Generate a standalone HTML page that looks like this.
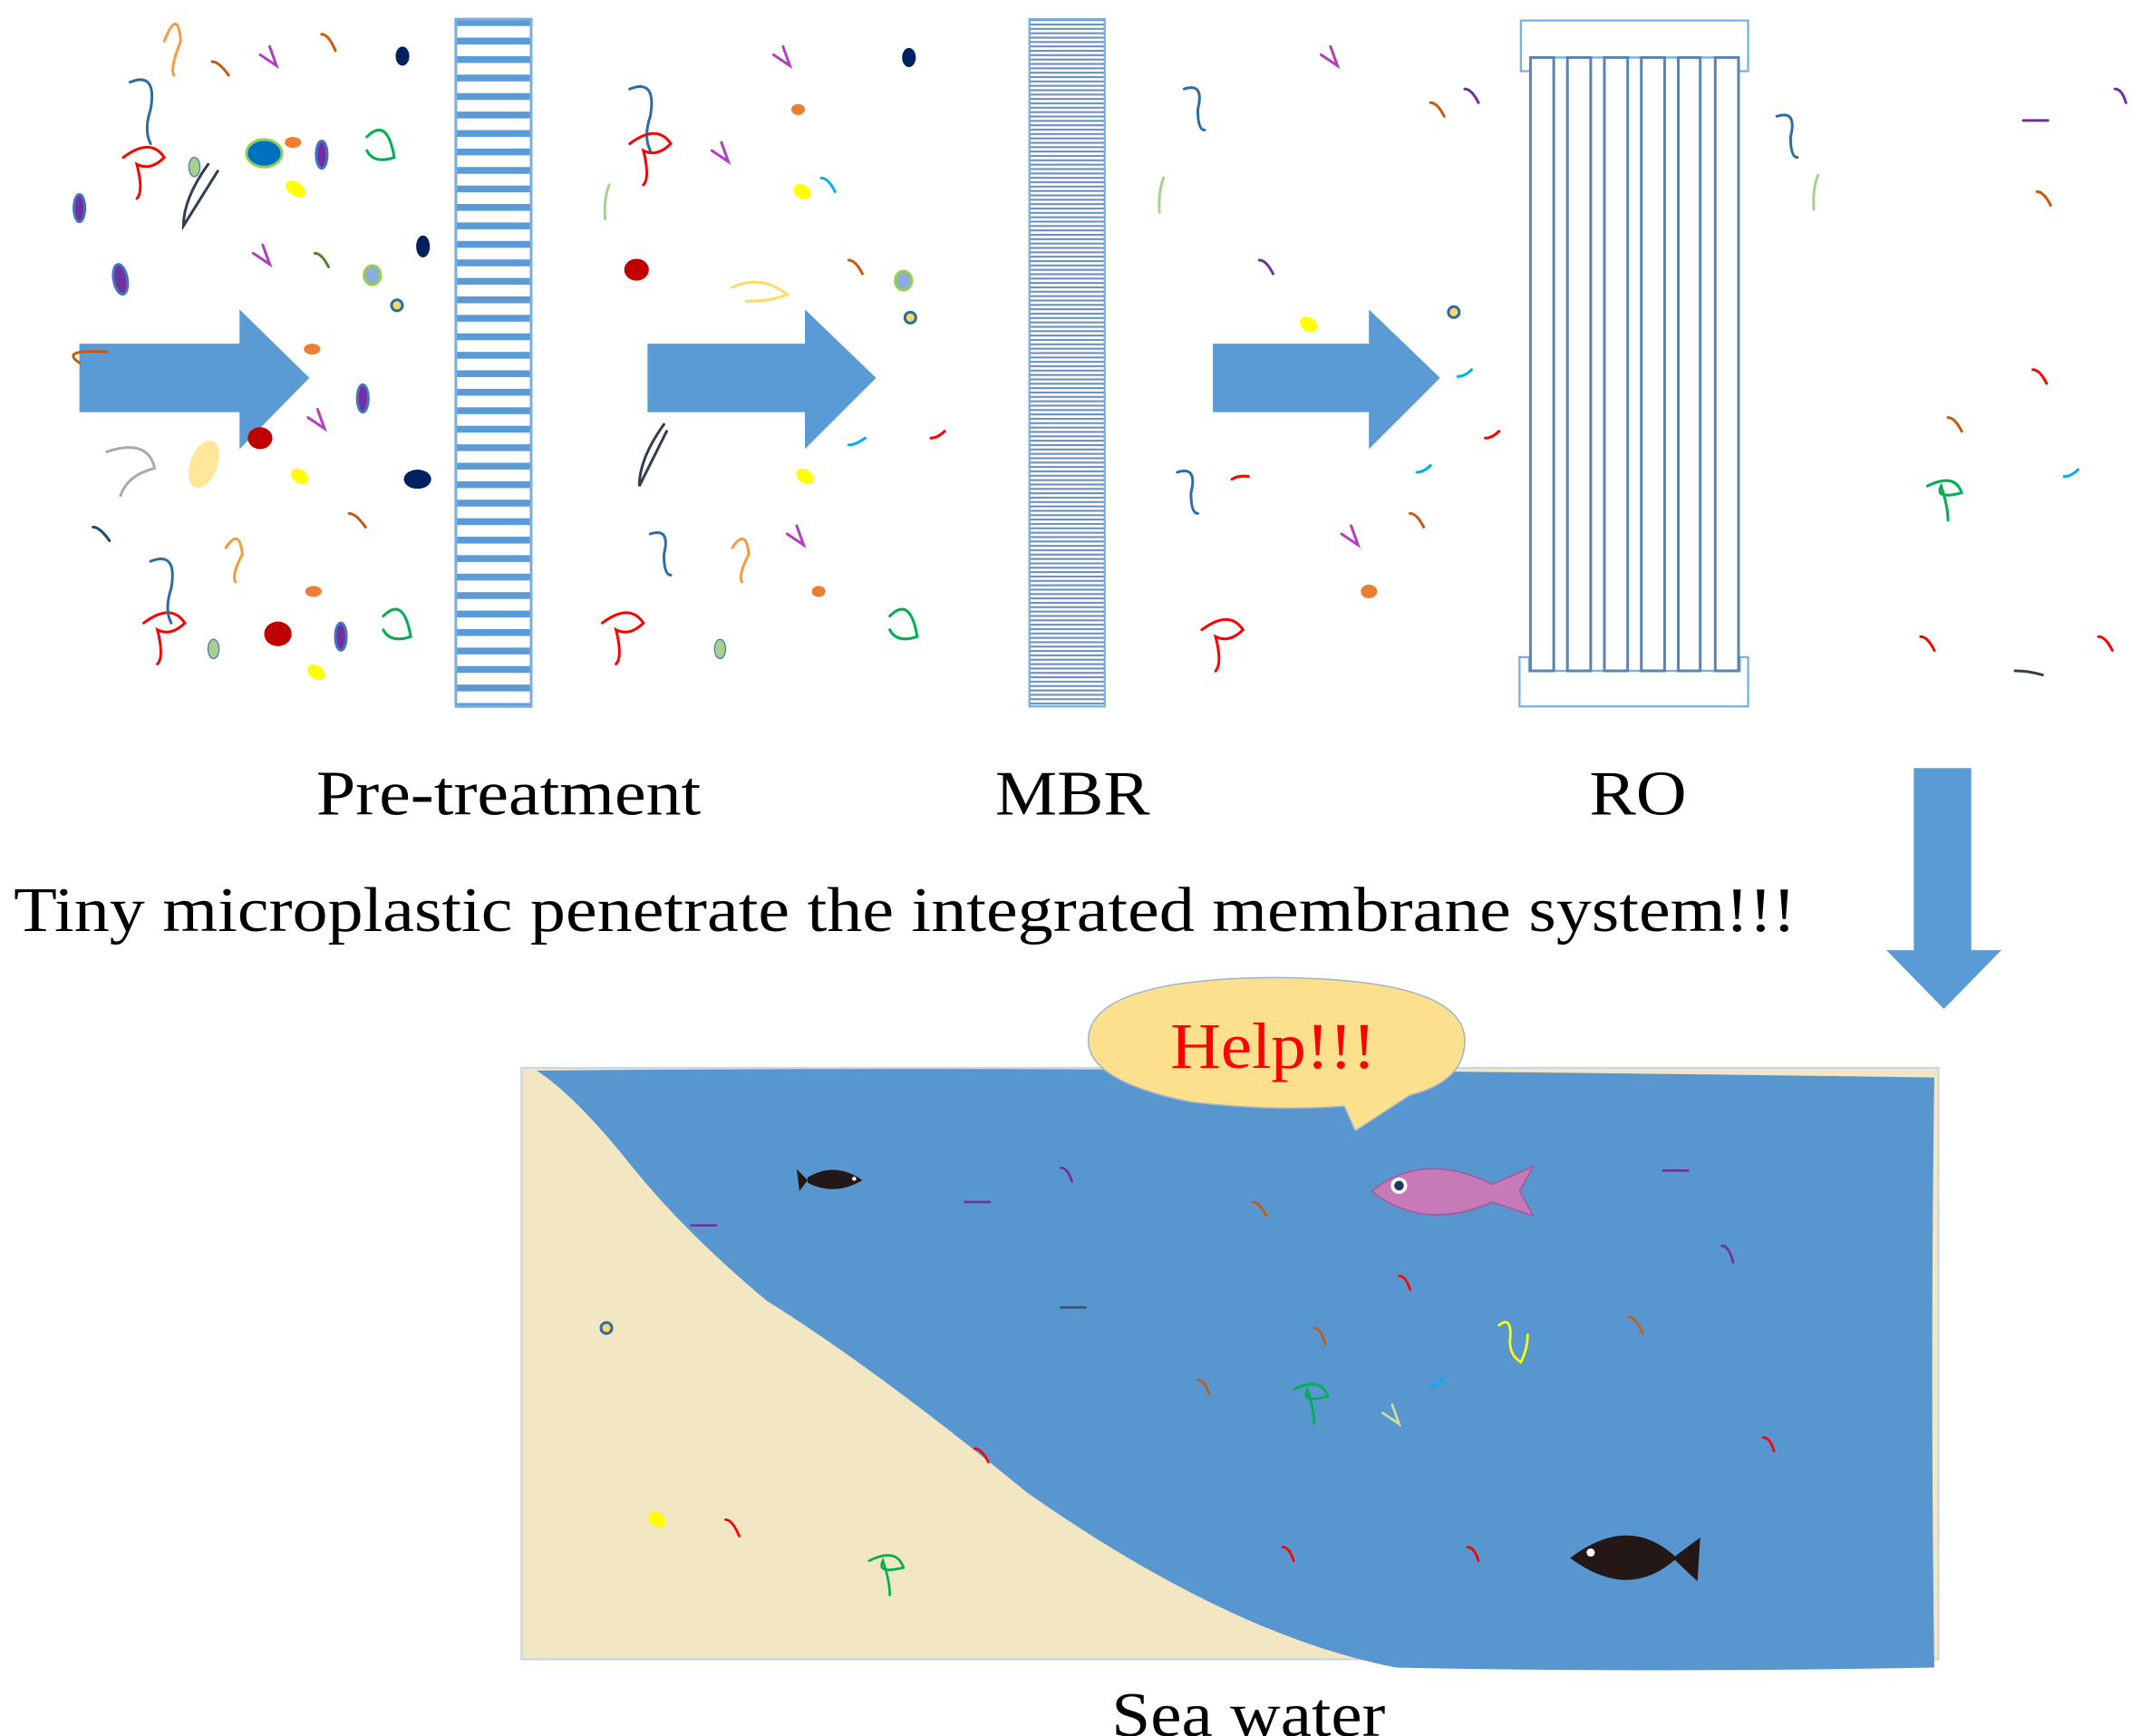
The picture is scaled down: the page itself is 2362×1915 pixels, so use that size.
<!DOCTYPE html>
<html><head><meta charset="utf-8"><style>
html,body{margin:0;padding:0;background:#fff;}
svg{display:block;}
text{font-family:"Liberation Serif",serif;}
</style></head><body>
<svg width="2362" height="1915" viewBox="0 0 1564 1268" preserveAspectRatio="none" xmlns="http://www.w3.org/2000/svg">
<defs>
<pattern id="stripes" x="0" y="14" width="10" height="13.5" patternUnits="userSpaceOnUse">
<rect width="10" height="13.5" fill="#fff"/><rect width="10" height="5" fill="#5b9bd5"/>
</pattern>
<pattern id="dense" x="0" y="14" width="10" height="3.2" patternUnits="userSpaceOnUse">
<rect width="10" height="3.2" fill="#fff"/><rect width="10" height="1.4" fill="#6a8fbf"/>
</pattern>
</defs>
<rect x="333" y="14" width="55" height="502" fill="url(#stripes)" stroke="#7aaee0" stroke-width="2"/>
<rect x="752" y="14" width="55" height="502" fill="url(#dense)" stroke="#7aaee0" stroke-width="1.5"/>
<g fill="#fff" stroke="#7aaee0" stroke-width="1.5">
<path d="M1111 52 V15 H1277 V52 H1270 V42 H1118 V52 Z"/>
<path d="M1110 480 H1117 V490 H1271 V480 H1277 V516 H1110 Z"/>
</g>
<g fill="#fff" stroke="#5b84b1" stroke-width="2">
<rect x="1118" y="42" width="17" height="448"/>
<rect x="1145" y="42" width="17" height="448"/>
<rect x="1172" y="42" width="17" height="448"/>
<rect x="1199" y="42" width="17" height="448"/>
<rect x="1226" y="42" width="16" height="448"/>
<rect x="1253" y="42" width="17" height="448"/>
</g>
<g fill="#5b9bd5">
<path d="M58 251 H175 V226 L226 276 L175 328 V301 H58 Z"/>
<path d="M473 251 H588 V226 L640 276 L588 328 V301 H473 Z"/>
<path d="M886 251 H1000 V226 L1052 276 L1000 328 V301 H886 Z"/>
<path d="M1398 561 H1440 V694 H1462 L1420 737 L1378 694 H1398 Z"/>
</g>
<g fill="none" stroke-width="2" stroke-linecap="round">
<path d="M120 30 q10 -25 12 0 q-8 20 -5 25" stroke="#f79a3e"/>
<path d="M95 60 q20 -8 15 20 q-5 15 0 25" stroke="#2e6da4"/>
<path d="M90 115 q20 -15 30 0 q-10 10 -20 5 q5 20 0 25" stroke="#f00"/>
<path d="M155 45 q5 0 12 10" stroke="#c55a11"/>
<path d="M190 40 l12 8 l-5 -14" stroke="#b23fbf"/>
<path d="M235 25 q5 0 10 12" stroke="#c55a11"/>
<path d="M58 265 q-15 -10 20 -8" stroke="#c55a11"/>
<path d="M152 120 q-18 25 -18 45 l25 -40" stroke="#333f50"/>
<path d="M185 185 l12 8 l-5 -14" stroke="#b23fbf"/>
<path d="M230 185 q5 0 10 10" stroke="#548235"/>
<path d="M268 100 q15 -15 20 15 q-15 5 -20 -5" stroke="#00b050"/>
<path d="M280 450 q15 -15 20 15 q-15 5 -20 -5" stroke="#00b050"/>
<path d="M105 455 q20 -15 30 0 q-10 10 -20 5 q5 20 0 25" stroke="#f00"/>
<path d="M110 410 q20 -8 15 20 q-5 15 0 25" stroke="#2e6da4"/>
<path d="M165 400 q10 -15 12 5 q-8 15 -5 20" stroke="#f79a3e"/>
<path d="M78 330 q30 -10 35 12 q-20 5 -25 20" stroke="#aaa"/>
<path d="M225 305 l12 8 l-5 -14" stroke="#b23fbf"/>
<path d="M255 375 q5 0 12 10" stroke="#c55a11"/>
<path d="M68 385 q5 0 12 10" stroke="#1f4e79"/>
<path d="M460 65 q20 -8 15 20 q-5 15 0 25" stroke="#2e6da4"/>
<path d="M460 105 q20 -15 30 0 q-10 10 -20 5 q5 20 0 25" stroke="#f00"/>
<path d="M565 40 l12 8 l-5 -14" stroke="#b23fbf"/>
<path d="M520 110 l12 8 l-5 -14" stroke="#b23fbf"/>
<path d="M575 390 l12 8 l-5 -14" stroke="#b23fbf"/>
<path d="M485 310 q-18 25 -18 45 l20 -40" stroke="#333f50"/>
<path d="M475 390 q15 -5 10 15 q0 15 5 15" stroke="#2e6da4"/>
<path d="M535 400 q10 -15 12 5 q-8 15 -5 20" stroke="#f79a3e"/>
<path d="M440 455 q20 -15 30 0 q-10 10 -20 5 q5 20 0 25" stroke="#f00"/>
<path d="M650 450 q15 -15 20 15 q-15 5 -20 -5" stroke="#00b050"/>
<path d="M535 210 q20 -10 40 5 q-10 5 -30 5" stroke="#ffd966"/>
<path d="M620 190 q5 0 10 10" stroke="#c55a11"/>
<path d="M600 130 q5 0 10 10" stroke="#00b0f0"/>
<path d="M620 325 q5 0 12 -5" stroke="#00b0f0"/>
<path d="M680 320 q5 0 10 -5" stroke="#f00"/>
<path d="M865 65 q15 -5 10 15 q0 15 5 15" stroke="#2e6da4"/>
<path d="M860 345 q15 -5 10 15 q0 15 5 15" stroke="#2e6da4"/>
<path d="M965 40 l12 8 l-5 -14" stroke="#b23fbf"/>
<path d="M980 390 l12 8 l-5 -14" stroke="#b23fbf"/>
<path d="M1045 75 q5 0 10 10" stroke="#c55a11"/>
<path d="M1070 65 q5 0 10 10" stroke="#7030a0"/>
<path d="M920 190 q5 0 10 10" stroke="#7030a0"/>
<path d="M1030 375 q5 0 10 10" stroke="#c55a11"/>
<path d="M1035 345 q5 0 10 -5" stroke="#00b0f0"/>
<path d="M1065 275 q5 0 10 -5" stroke="#00b0f0"/>
<path d="M1085 320 q5 0 10 -5" stroke="#f00"/>
<path d="M900 350 q5 -3 12 -2" stroke="#f00"/>
<path d="M878 460 q20 -15 30 0 q-10 10 -20 5 q5 20 0 25" stroke="#f00"/>
<path d="M1298 85 q15 -5 10 15 q0 15 5 15" stroke="#2e6da4"/>
<path d="M1478 88 h18" stroke="#7030a0"/>
<path d="M1545 65 q5 0 8 10" stroke="#7030a0"/>
<path d="M1488 140 q5 0 10 10" stroke="#c55a11"/>
<path d="M1485 270 q5 0 10 10" stroke="#f00"/>
<path d="M1423 305 q5 0 10 10" stroke="#c55a11"/>
<path d="M1508 348 q5 0 10 -5" stroke="#00b0f0"/>
<path d="M1408 355 q20 -10 25 5 q-20 5 -15 -5 q5 15 5 25" stroke="#00b050"/>
<path d="M1403 465 q5 0 10 10" stroke="#f00"/>
<path d="M1533 465 q5 0 10 10" stroke="#f00"/>
<path d="M1472 490 q10 0 20 3" stroke="#333f50"/>
<path d="M1328 128 q-4 10 -3 25" stroke="#a9d18e"/>
<path d="M850 130 q-4 10 -3 25" stroke="#a9d18e"/>
<path d="M445 135 q-4 10 -3 25" stroke="#a9d18e"/>
</g>
<g>
<ellipse cx="294" cy="41" rx="5" ry="7" fill="#002060"/>
<ellipse cx="309" cy="180" rx="5" ry="8" fill="#002060"/>
<ellipse cx="305" cy="350" rx="10" ry="7" fill="#002060"/>
<ellipse cx="664" cy="42" rx="5" ry="7" fill="#002060"/>
<ellipse cx="193" cy="112" rx="13" ry="10" fill="#0070c0" stroke="#92d050" stroke-width="2"/>
<ellipse cx="214" cy="104" rx="6" ry="4" fill="#ed7d31"/>
<ellipse cx="228" cy="255" rx="6" ry="4" fill="#ed7d31"/>
<ellipse cx="229" cy="432" rx="6" ry="4" fill="#ed7d31"/>
<ellipse cx="583" cy="80" rx="5" ry="4" fill="#ed7d31"/>
<ellipse cx="598" cy="432" rx="5" ry="4" fill="#ed7d31"/>
<ellipse cx="1000" cy="432" rx="6" ry="5" fill="#ed7d31"/>
<ellipse cx="142" cy="122" rx="4" ry="7" fill="#a9d18e" stroke="#5b84b1"/>
<ellipse cx="156" cy="474" rx="4" ry="7" fill="#a9d18e" stroke="#5b84b1"/>
<ellipse cx="526" cy="474" rx="4" ry="7" fill="#a9d18e" stroke="#5b84b1"/>
<ellipse cx="216" cy="138" rx="8" ry="5" fill="#ffff00" transform="rotate(35 216 138)"/>
<ellipse cx="219" cy="348" rx="7" ry="5" fill="#ffff00" transform="rotate(35 219 348)"/>
<ellipse cx="231" cy="491" rx="7" ry="5" fill="#ffff00" transform="rotate(35 231 491)"/>
<ellipse cx="586" cy="140" rx="7" ry="5" fill="#ffff00" transform="rotate(35 586 140)"/>
<ellipse cx="588" cy="348" rx="7" ry="5" fill="#ffff00" transform="rotate(35 588 348)"/>
<ellipse cx="956" cy="237" rx="7" ry="5" fill="#ffff00" transform="rotate(35 956 237)"/>
<ellipse cx="190" cy="320" rx="9" ry="8" fill="#c00000"/>
<ellipse cx="203" cy="463" rx="10" ry="9" fill="#c00000"/>
<ellipse cx="465" cy="197" rx="9" ry="8" fill="#c00000"/>
<ellipse cx="149" cy="339" rx="10" ry="18" fill="#ffe699" transform="rotate(20 149 339)"/>
<ellipse cx="272" cy="201" rx="6" ry="7" fill="#8faadc" stroke="#92d050" stroke-width="2"/>
<ellipse cx="660" cy="205" rx="6" ry="7" fill="#8faadc" stroke="#92d050" stroke-width="2"/>
<ellipse cx="88" cy="204" rx="5" ry="11" fill="#7030a0" stroke="#4472c4" stroke-width="2" transform="rotate(-10 88 204)"/>
<ellipse cx="58" cy="152" rx="4" ry="10" fill="#7030a0" stroke="#4472c4" stroke-width="2"/>
<ellipse cx="235" cy="113" rx="4" ry="10" fill="#7030a0" stroke="#4472c4" stroke-width="2"/>
<ellipse cx="265" cy="291" rx="4" ry="10" fill="#7030a0" stroke="#4472c4" stroke-width="2"/>
<ellipse cx="249" cy="465" rx="4" ry="10" fill="#7030a0" stroke="#4472c4" stroke-width="2"/>
<circle cx="290" cy="223" r="4" fill="#ffd966" stroke="#2e6da4" stroke-width="2"/>
<circle cx="665" cy="232" r="4" fill="#ffd966" stroke="#2e6da4" stroke-width="2"/>
<circle cx="1062" cy="228" r="4" fill="#ffd966" stroke="#2e6da4" stroke-width="2"/>
</g>
<text x="231" y="595" font-size="46" textLength="281" lengthAdjust="spacingAndGlyphs">Pre-treatment</text>
<text x="727" y="595" font-size="46" textLength="113" lengthAdjust="spacingAndGlyphs">MBR</text>
<text x="1161" y="595" font-size="46" textLength="71" lengthAdjust="spacingAndGlyphs">RO</text>
<text x="10" y="680" font-size="46" textLength="1302" lengthAdjust="spacingAndGlyphs">Tiny microplastic penetrate the integrated membrane system!!!</text>
<rect x="381" y="780" width="1035" height="432" fill="#f3e6c2" stroke="#c9d6e6" stroke-width="1.5"/>
<path d="M392 782 Q800 778 1413 787 Q1410 1000 1413 1218 Q1200 1222 1020 1218 Q900 1195 750 1090 Q640 1000 560 950 Q500 900 460 850 Q420 800 392 782 Z" fill="#5896cf"/>
<g fill="none" stroke-width="1.8" stroke-linecap="round">
<path d="M705 878 h18" stroke="#7030a0"/>
<path d="M505 895 h18" stroke="#7030a0"/>
<path d="M775 853 q5 0 8 10" stroke="#7030a0"/>
<path d="M915 878 q5 0 10 10" stroke="#c55a11"/>
<path d="M1215 855 h18" stroke="#7030a0"/>
<path d="M1258 910 q5 0 8 12" stroke="#7030a0"/>
<path d="M1022 932 q5 0 8 10" stroke="#f00"/>
<path d="M775 955 h18" stroke="#44546a"/>
<path d="M960 970 q5 0 8 12" stroke="#c55a11"/>
<path d="M1190 962 q5 0 10 12" stroke="#c55a11"/>
<path d="M1095 968 q10 -8 8 12 q0 10 8 15 q5 -10 5 -20" stroke="#ffff00"/>
<path d="M875 1008 q5 0 8 10" stroke="#c55a11"/>
<path d="M945 1015 q20 -10 25 5 q-20 5 -15 -5 q5 15 5 25" stroke="#00b050"/>
<path d="M1045 1012 q5 0 10 -5" stroke="#00b0f0"/>
<path d="M1010 1032 l12 8 l-5 -14" stroke="#c9e0a0"/>
<path d="M712 1058 q5 0 10 10" stroke="#f00"/>
<path d="M1288 1050 q5 0 8 10" stroke="#f00"/>
<path d="M937 1130 q5 0 8 10" stroke="#f00"/>
<path d="M1072 1130 q5 0 8 10" stroke="#f00"/>
<path d="M530 1110 q5 0 10 12" stroke="#f00"/>
<path d="M635 1140 q20 -10 25 5 q-20 5 -15 -5 q5 15 5 25" stroke="#00b050"/>
</g>
<ellipse cx="480" cy="1110" rx="7" ry="5" fill="#ffff00" transform="rotate(35 480 1110)"/>
<circle cx="443" cy="970" r="4" fill="#ffd966" stroke="#2e6da4" stroke-width="2"/>
<g fill="#231815">
<path d="M590 860 Q610 848 630 862 Q610 874 590 864 Z"/><path d="M590 862 L582 854 L584 870 Z"/>
<path d="M1147 1138 Q1190 1105 1225 1138 Q1190 1170 1147 1138 Z"/><path d="M1222 1138 L1242 1123 L1240 1155 Z"/>
</g>
<circle cx="624" cy="861" r="1.5" fill="#fff"/>
<circle cx="1162" cy="1134" r="3" fill="#fff"/>
<path d="M1002 870 Q1040 840 1090 865 L1120 852 L1110 870 L1120 888 L1090 878 Q1040 900 1002 870 Z" fill="#c77ab8" stroke="#a8559a"/>
<circle cx="1022" cy="866" r="6" fill="#fff"/><circle cx="1022" cy="866" r="3.5" fill="#1f3864"/>
<path d="M870 805 Q795 790 795 760 Q795 715 932 714 Q1070 715 1070 760 Q1070 790 1030 800 L990 826 L982 808 Q930 812 870 805 Z" fill="#fde08e" stroke="#9db3cc" stroke-width="1"/>
<text x="855" y="780" font-size="48" fill="#ff0000" textLength="150" lengthAdjust="spacingAndGlyphs">Help!!!</text>
<text x="812" y="1268" font-size="46" textLength="200" lengthAdjust="spacingAndGlyphs">Sea water</text>
</svg>
</body></html>
